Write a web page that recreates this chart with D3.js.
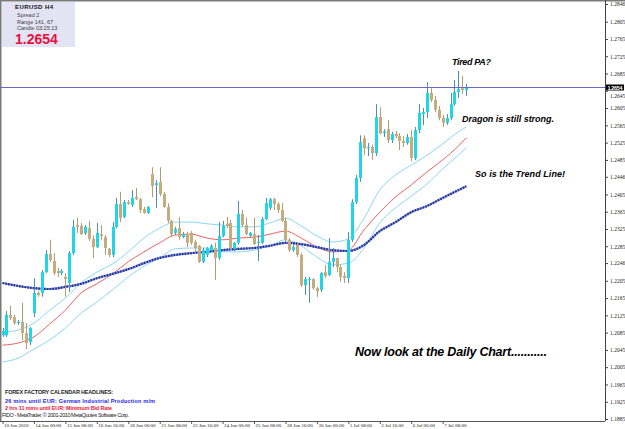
<!DOCTYPE html>
<html>
<head>
<meta charset="utf-8">
<script src="https://cdnjs.cloudflare.com/ajax/libs/d3/7.8.5/d3.min.js"></script>
<style>
  body { margin: 0; background: #fff; }
  svg { display: block; }
</style>
</head>
<body>
<div id="chart"></div>
<script>
//EURUSD H4 bars, oldest first (10 Jun 2010 16:00 onwards)
var opens = [1.2079,1.2079,1.2126,1.2121,1.2107,1.2110,1.2084,1.2063,1.2130,1.2177,
  1.2177,1.2225,1.2267,1.2251,1.2228,1.2223,1.2214,1.2200,1.2269,1.2334,
  1.2332,1.2316,1.2327,1.2302,1.2283,1.2313,1.2306,1.2279,1.2265,1.2330,
  1.2383,1.2353,1.2387,1.2381,1.2399,1.2394,1.2371,1.2362,1.2452,1.2427,
  1.2434,1.2406,1.2376,1.2344,1.2316,1.2327,1.2306,1.2313,1.2316,1.2295,
  1.2286,1.2249,1.2265,1.2276,1.2281,1.2258,1.2309,1.2337,1.2339,1.2279,
  1.2293,1.2360,1.2334,1.2309,1.2313,1.2293,1.2293,1.2348,1.2374,1.2394,
  1.2383,1.2369,1.2344,1.2300,1.2276,1.2288,1.2265,1.2195,1.2207,1.2209,
  1.2188,1.2184,1.2225,1.2218,1.2249,1.2258,1.2237,1.2216,1.2211,1.2300,
  1.2387,1.2443,1.2535,1.2512,1.2515,1.2501,1.2584,1.2547,1.2556,1.2531,
  1.2545,1.2540,1.2529,1.2524,1.2538,1.2489,1.2554,1.2591,1.2596,1.2640,
  1.2624,1.2601,1.2582,1.2571,1.2582,1.2614,1.2642,1.2651,1.2647];
var highs = [1.2096,1.2135,1.2147,1.2126,1.2114,1.2154,1.2107,1.2098,1.2211,1.2181,
  1.2230,1.2276,1.2300,1.2269,1.2235,1.2232,1.2223,1.2274,1.2346,1.2351,
  1.2339,1.2334,1.2344,1.2311,1.2339,1.2334,1.2311,1.2281,1.2341,1.2397,
  1.2411,1.2392,1.2392,1.2415,1.2420,1.2397,1.2376,1.2378,1.2468,1.2438,
  1.2468,1.2411,1.2385,1.2346,1.2330,1.2353,1.2318,1.2318,1.2320,1.2300,
  1.2288,1.2281,1.2283,1.2290,1.2293,1.2341,1.2344,1.2353,1.2346,1.2295,
  1.2390,1.2369,1.2351,1.2318,1.2351,1.2311,1.2353,1.2397,1.2397,1.2397,
  1.2387,1.2385,1.2351,1.2304,1.2288,1.2293,1.2269,1.2214,1.2214,1.2211,
  1.2191,1.2225,1.2242,1.2304,1.2281,1.2258,1.2242,1.2225,1.2318,1.2394,
  1.2450,1.2542,1.2542,1.2524,1.2520,1.2614,1.2607,1.2556,1.2577,1.2550,
  1.2552,1.2547,1.2540,1.2545,1.2554,1.2561,1.2614,1.2605,1.2665,1.2651,
  1.2633,1.2610,1.2589,1.2591,1.2640,1.2670,1.2691,1.2679,1.2661];
var lows = [1.2075,1.2075,1.2114,1.2103,1.2103,1.2068,1.2047,1.2056,1.2121,1.2168,
  1.2168,1.2223,1.2249,1.2218,1.2214,1.2218,1.2168,1.2179,1.2265,1.2316,
  1.2311,1.2311,1.2297,1.2258,1.2281,1.2300,1.2265,1.2260,1.2260,1.2327,
  1.2341,1.2350,1.2381,1.2376,1.2392,1.2362,1.2360,1.2360,1.2399,1.2374,
  1.2401,1.2374,1.2339,1.2306,1.2311,1.2300,1.2304,1.2283,1.2288,1.2272,
  1.2246,1.2246,1.2260,1.2272,1.2207,1.2253,1.2306,1.2327,1.2276,1.2274,
  1.2288,1.2330,1.2311,1.2306,1.2288,1.2251,1.2290,1.2346,1.2369,1.2369,
  1.2362,1.2341,1.2295,1.2272,1.2272,1.2260,1.2191,1.2172,1.2154,1.2184,
  1.2168,1.2179,1.2211,1.2216,1.2237,1.2225,1.2203,1.2200,1.2200,1.2295,
  1.2383,1.2434,1.2496,1.2494,1.2485,1.2494,1.2543,1.2538,1.2524,1.2524,
  1.2536,1.2508,1.2515,1.2520,1.2482,1.2485,1.2547,1.2566,1.2582,1.2619,
  1.2596,1.2577,1.2561,1.2566,1.2577,1.2610,1.2628,1.2638,1.2633];
var closes = [1.2089,1.2126,1.2119,1.2107,1.2110,1.2084,1.2061,1.2096,1.2177,1.2172,
  1.2225,1.2267,1.2253,1.2223,1.2223,1.2228,1.2209,1.2269,1.2330,1.2330,
  1.2313,1.2330,1.2302,1.2283,1.2316,1.2309,1.2281,1.2265,1.2330,1.2383,
  1.2350,1.2387,1.2383,1.2397,1.2394,1.2369,1.2362,1.2376,1.2424,1.2431,
  1.2406,1.2376,1.2344,1.2313,1.2325,1.2306,1.2313,1.2293,1.2293,1.2281,
  1.2249,1.2276,1.2281,1.2286,1.2258,1.2309,1.2332,1.2332,1.2281,1.2293,
  1.2360,1.2334,1.2313,1.2316,1.2290,1.2295,1.2348,1.2385,1.2394,1.2383,
  1.2369,1.2344,1.2300,1.2276,1.2283,1.2265,1.2195,1.2209,1.2209,1.2188,
  1.2181,1.2223,1.2216,1.2249,1.2258,1.2237,1.2214,1.2211,1.2300,1.2387,
  1.2443,1.2526,1.2512,1.2515,1.2501,1.2584,1.2547,1.2551,1.2531,1.2545,
  1.2540,1.2529,1.2524,1.2538,1.2490,1.2554,1.2594,1.2596,1.2640,1.2624,
  1.2601,1.2582,1.2571,1.2582,1.2614,1.2642,1.2649,1.2647,1.2654];

//Moving averages, read every 4th bar (Dragon = 3 lines, Trend = dotted blue)
var maBars = [0,4,8,12,16,20,24,28,32,36,40,44,48,52,56,60,64,68,72,76,80,84,88,92,96,100,104,108,112,116,118];
var dragonHigh = [1.2086,1.2091,1.2107,1.2137,1.2165,1.2200,1.2225,1.2244,1.2272,1.2304,1.2327,1.2341,1.2341,1.2337,1.2334,1.2330,
  1.2330,1.2339,1.2350,1.2332,1.2309,1.2295,1.2302,1.2350,1.2415,1.2450,1.2473,1.2496,1.2522,1.2550,1.2561];
var dragonMid = [1.2056,1.2061,1.2075,1.2105,1.2137,1.2177,1.2198,1.2221,1.2249,1.2272,1.2293,1.2311,1.2313,1.2304,1.2300,1.2304,
  1.2306,1.2313,1.2320,1.2304,1.2283,1.2272,1.2276,1.2323,1.2364,1.2399,1.2427,1.2457,1.2485,1.2517,1.2536];
var dragonLow = [1.2017,1.2026,1.2047,1.2068,1.2096,1.2130,1.2156,1.2184,1.2214,1.2239,1.2258,1.2279,1.2281,1.2281,1.2272,1.2272,
  1.2276,1.2286,1.2300,1.2286,1.2260,1.2242,1.2246,1.2281,1.2339,1.2374,1.2401,1.2429,1.2464,1.2496,1.2513];
var trendLine = [1.2200,1.2193,1.2188,1.2186,1.2191,1.2198,1.2211,1.2221,1.2232,1.2246,1.2258,1.2265,1.2269,1.2272,1.2276,1.2279,
  1.2281,1.2286,1.2293,1.2290,1.2283,1.2276,1.2274,1.2288,1.2320,1.2341,1.2364,1.2378,1.2397,1.2415,1.2424];

//Axis labels
var xLabelBars = [0,8,16,24,32,40,48,56,64,72,80,88,96,104,112];
var xLabels = ["10 Jun 2010","14 Jun 00:00","15 Jun 08:00","16 Jun 16:00","18 Jun 00:00","21 Jun 08:00","22 Jun 16:00",
  "24 Jun 00:00","25 Jun 08:00","28 Jun 16:00","30 Jun 00:00","1 Jul 08:00","2 Jul 16:00","6 Jul 00:00","7 Jul 08:00"];
var yTicks = ["1.2846","1.2805","1.2765","1.2725","1.2685","1.2645","1.2605","1.2565","1.2525","1.2485","1.2446","1.2405","1.2365",
  "1.2325","1.2285","1.2246","1.2205","1.2165","1.2125","1.2085","1.2045","1.2005","1.1965","1.1925","1.1885"];
var lastPrice = 1.2654;

var width = 625, height = 429;
var axisX = 605, axisY = 421;
var svg = d3.select("#chart").append("svg").attr("width", width).attr("height", height)
  .style("font-family", "'Liberation Sans', Arial, sans-serif");

var x = d3.scaleLinear().domain([0, 118]).range([2.5, 2.5 + 118 * 3.93]);
var y = d3.scaleLinear().domain([1.1885, 1.2846]).range([419, 4]);

//Frame on top and left
svg.append("line").attr("x1", 0).attr("x2", width).attr("y1", 0.5).attr("y2", 0.5).attr("stroke", "#7a7a7a").attr("stroke-width", 2);
svg.append("line").attr("x1", 0.5).attr("x2", 0.5).attr("y1", 0).attr("y2", axisY).attr("stroke", "#7a7a7a").attr("stroke-width", 2);

//Moving averages
function maLine(vals) {
  return d3.line()
    .x(function(d, i) { return x(maBars[i]); })
    .y(function(d) { return y(d); })
    .curve(d3.curveMonotoneX)(vals);
}
svg.append("path").attr("d", maLine(dragonHigh)).attr("fill", "none").attr("stroke", "#8ad6f6").attr("stroke-width", 1);
svg.append("path").attr("d", maLine(dragonLow)).attr("fill", "none").attr("stroke", "#8ad6f6").attr("stroke-width", 1);
svg.append("path").attr("d", maLine(dragonMid)).attr("fill", "none").attr("stroke", "#ee6060").attr("stroke-width", 1);
svg.append("path").attr("d", maLine(trendLine)).attr("fill", "none").attr("stroke", "#7d8fe2").attr("stroke-width", 2.2);
svg.append("path").attr("d", maLine(trendLine)).attr("fill", "none").attr("stroke", "#22318f").attr("stroke-width", 2.2)
  .attr("stroke-dasharray", "1.6,1.2");

//Candles
var bars = d3.range(opens.length);
var candles = svg.append("g").selectAll("g").data(bars).enter().append("g");

candles.append("line")
  .attr("x1", function(i) { return Math.round(x(i)) + 0.5; })
  .attr("x2", function(i) { return Math.round(x(i)) + 0.5; })
  .attr("y1", function(i) { return y(highs[i]); })
  .attr("y2", function(i) { return y(lows[i]); })
  .attr("stroke", function(i) { return closes[i] >= opens[i] ? "#4f8db5" : "#b39b70"; })
  .attr("stroke-width", 1);

candles.append("rect")
  .attr("x", function(i) { return Math.round(x(i)) - 1; })
  .attr("width", 3)
  .attr("y", function(i) { return y(Math.max(opens[i], closes[i])); })
  .attr("height", function(i) { return Math.max(1, Math.abs(y(opens[i]) - y(closes[i]))); })
  .attr("fill", function(i) { return closes[i] >= opens[i] ? "#1fd5e6" : "#c5ac7f"; });

//Current price line
var priceY = Math.round(y(lastPrice)) + 0.5;
svg.append("line").attr("x1", 0).attr("x2", axisX).attr("y1", priceY).attr("y2", priceY)
  .attr("stroke", "#6a6ac4").attr("stroke-width", 1);

//Right price axis
var yAxis = svg.append("g").attr("transform", "translate(" + axisX + ",0)")
  .call(d3.axisRight(y).tickValues(yTicks.map(Number)).tickFormat(function(d, i) { return yTicks[i]; }).tickSize(3).tickPadding(2));
yAxis.select(".domain").attr("d", "M0.5,0V" + axisY).attr("stroke", "#444");
yAxis.selectAll("line").attr("stroke", "#444");
yAxis.selectAll("text").style("font-family", "'Liberation Serif', serif").style("font-size", "5.5px").attr("fill", "#222");
//the label just under the price box is pushed down a little, as MetaTrader does
yAxis.selectAll("text").filter(function(d) { return Math.abs(y(d) - y(lastPrice)) < 6; }).attr("dy", "1.3em");

//Price box on the axis
svg.append("rect").attr("x", axisX + 1).attr("y", priceY - 3).attr("width", 18).attr("height", 6).attr("fill", "#000");
svg.append("text").attr("x", axisX + 2.5).attr("y", priceY + 2).text(lastPrice.toFixed(4))
  .attr("fill", "#fff").style("font-size", "5.5px").style("font-weight", "bold").attr("textLength", 15);

//Bottom time axis
var xAxis = svg.append("g").attr("transform", "translate(0," + axisY + ")")
  .call(d3.axisBottom(x).tickValues(xLabelBars).tickFormat(function(d, i) { return xLabels[i]; }).tickSize(3).tickPadding(0));
xAxis.select(".domain").attr("d", "M0," + 0.5 + "H" + axisX).attr("stroke", "#555");
xAxis.selectAll("line").attr("stroke", "#555");
xAxis.selectAll("text").attr("text-anchor", "start").attr("dx", 1).attr("dy", 3)
  .style("font-family", "'Liberation Serif', serif").style("font-size", "5px").attr("fill", "#222");

//Info panel top left
svg.append("rect").attr("x", 2).attr("y", 2).attr("width", 73).attr("height", 45).attr("fill", "#e3e3f3");
svg.append("text").attr("x", 15).attr("y", 9).text("EURUSD    H4").style("font-size", "6px").style("font-weight", "bold")
  .attr("fill", "#111").attr("textLength", 38);
var infoLines = ["Spread  2", "Range  141, 67", "Candle  03:25:13"];
svg.selectAll(".info").data(infoLines).enter().append("text")
  .attr("x", 17).attr("y", function(d, i) { return 17 + i * 6.5; })
  .text(function(d) { return d; }).style("font-size", "5.5px").attr("fill", "#444");
svg.append("text").attr("x", 15).attr("y", 44).text(lastPrice.toFixed(4)).style("font-size", "14px").style("font-weight", "bold")
  .attr("fill", "#e3123e");

//Notes on the chart
var notes = [
  {t: "Tired PA?", x: 452, y: 65, s: 9, w: 39},
  {t: "Dragon is still strong.", x: 462, y: 122, s: 9, w: 92},
  {t: "So is the Trend Line!", x: 475, y: 177, s: 9, w: 90},
  {t: "Now look at the Daily Chart...........", x: 355, y: 356, s: 12.5, w: 192}
];
svg.selectAll(".note").data(notes).enter().append("text")
  .attr("x", function(d) { return d.x; }).attr("y", function(d) { return d.y; })
  .attr("textLength", function(d) { return d.w; })
  .style("font-size", function(d) { return d.s + "px"; })
  .style("font-weight", "bold").style("font-style", "italic").attr("fill", "#000")
  .text(function(d) { return d.t; });

//Calendar headlines bottom left
var heads = [
  {t: "FOREX FACTORY CALENDAR  HEADLINES:", y: 394, c: "#222", w: 108, b: true},
  {t: "26 mins until EUR: German Industrial Production m/m", y: 403, c: "#1d1df0", w: 150, b: true},
  {t: "2 hrs 11 mins until EUR: Minimum Bid Rate", y: 409.5, c: "#f0143c", w: 107, b: true},
  {t: "FIDO - MetaTrader, \u00a9 2001-2010 MetaQuotes Software Corp.", y: 417, c: "#222", w: 127, b: false}
];
svg.selectAll(".head").data(heads).enter().append("text")
  .attr("x", function(d) { return d.b ? 5 : 2; }).attr("y", function(d) { return d.y; })
  .attr("textLength", function(d) { return d.w; })
  .style("font-size", "5.5px").style("font-weight", function(d) { return d.b ? "bold" : "normal"; })
  .attr("fill", function(d) { return d.c; })
  .text(function(d) { return d.t; });
</script>
</body>
</html>
